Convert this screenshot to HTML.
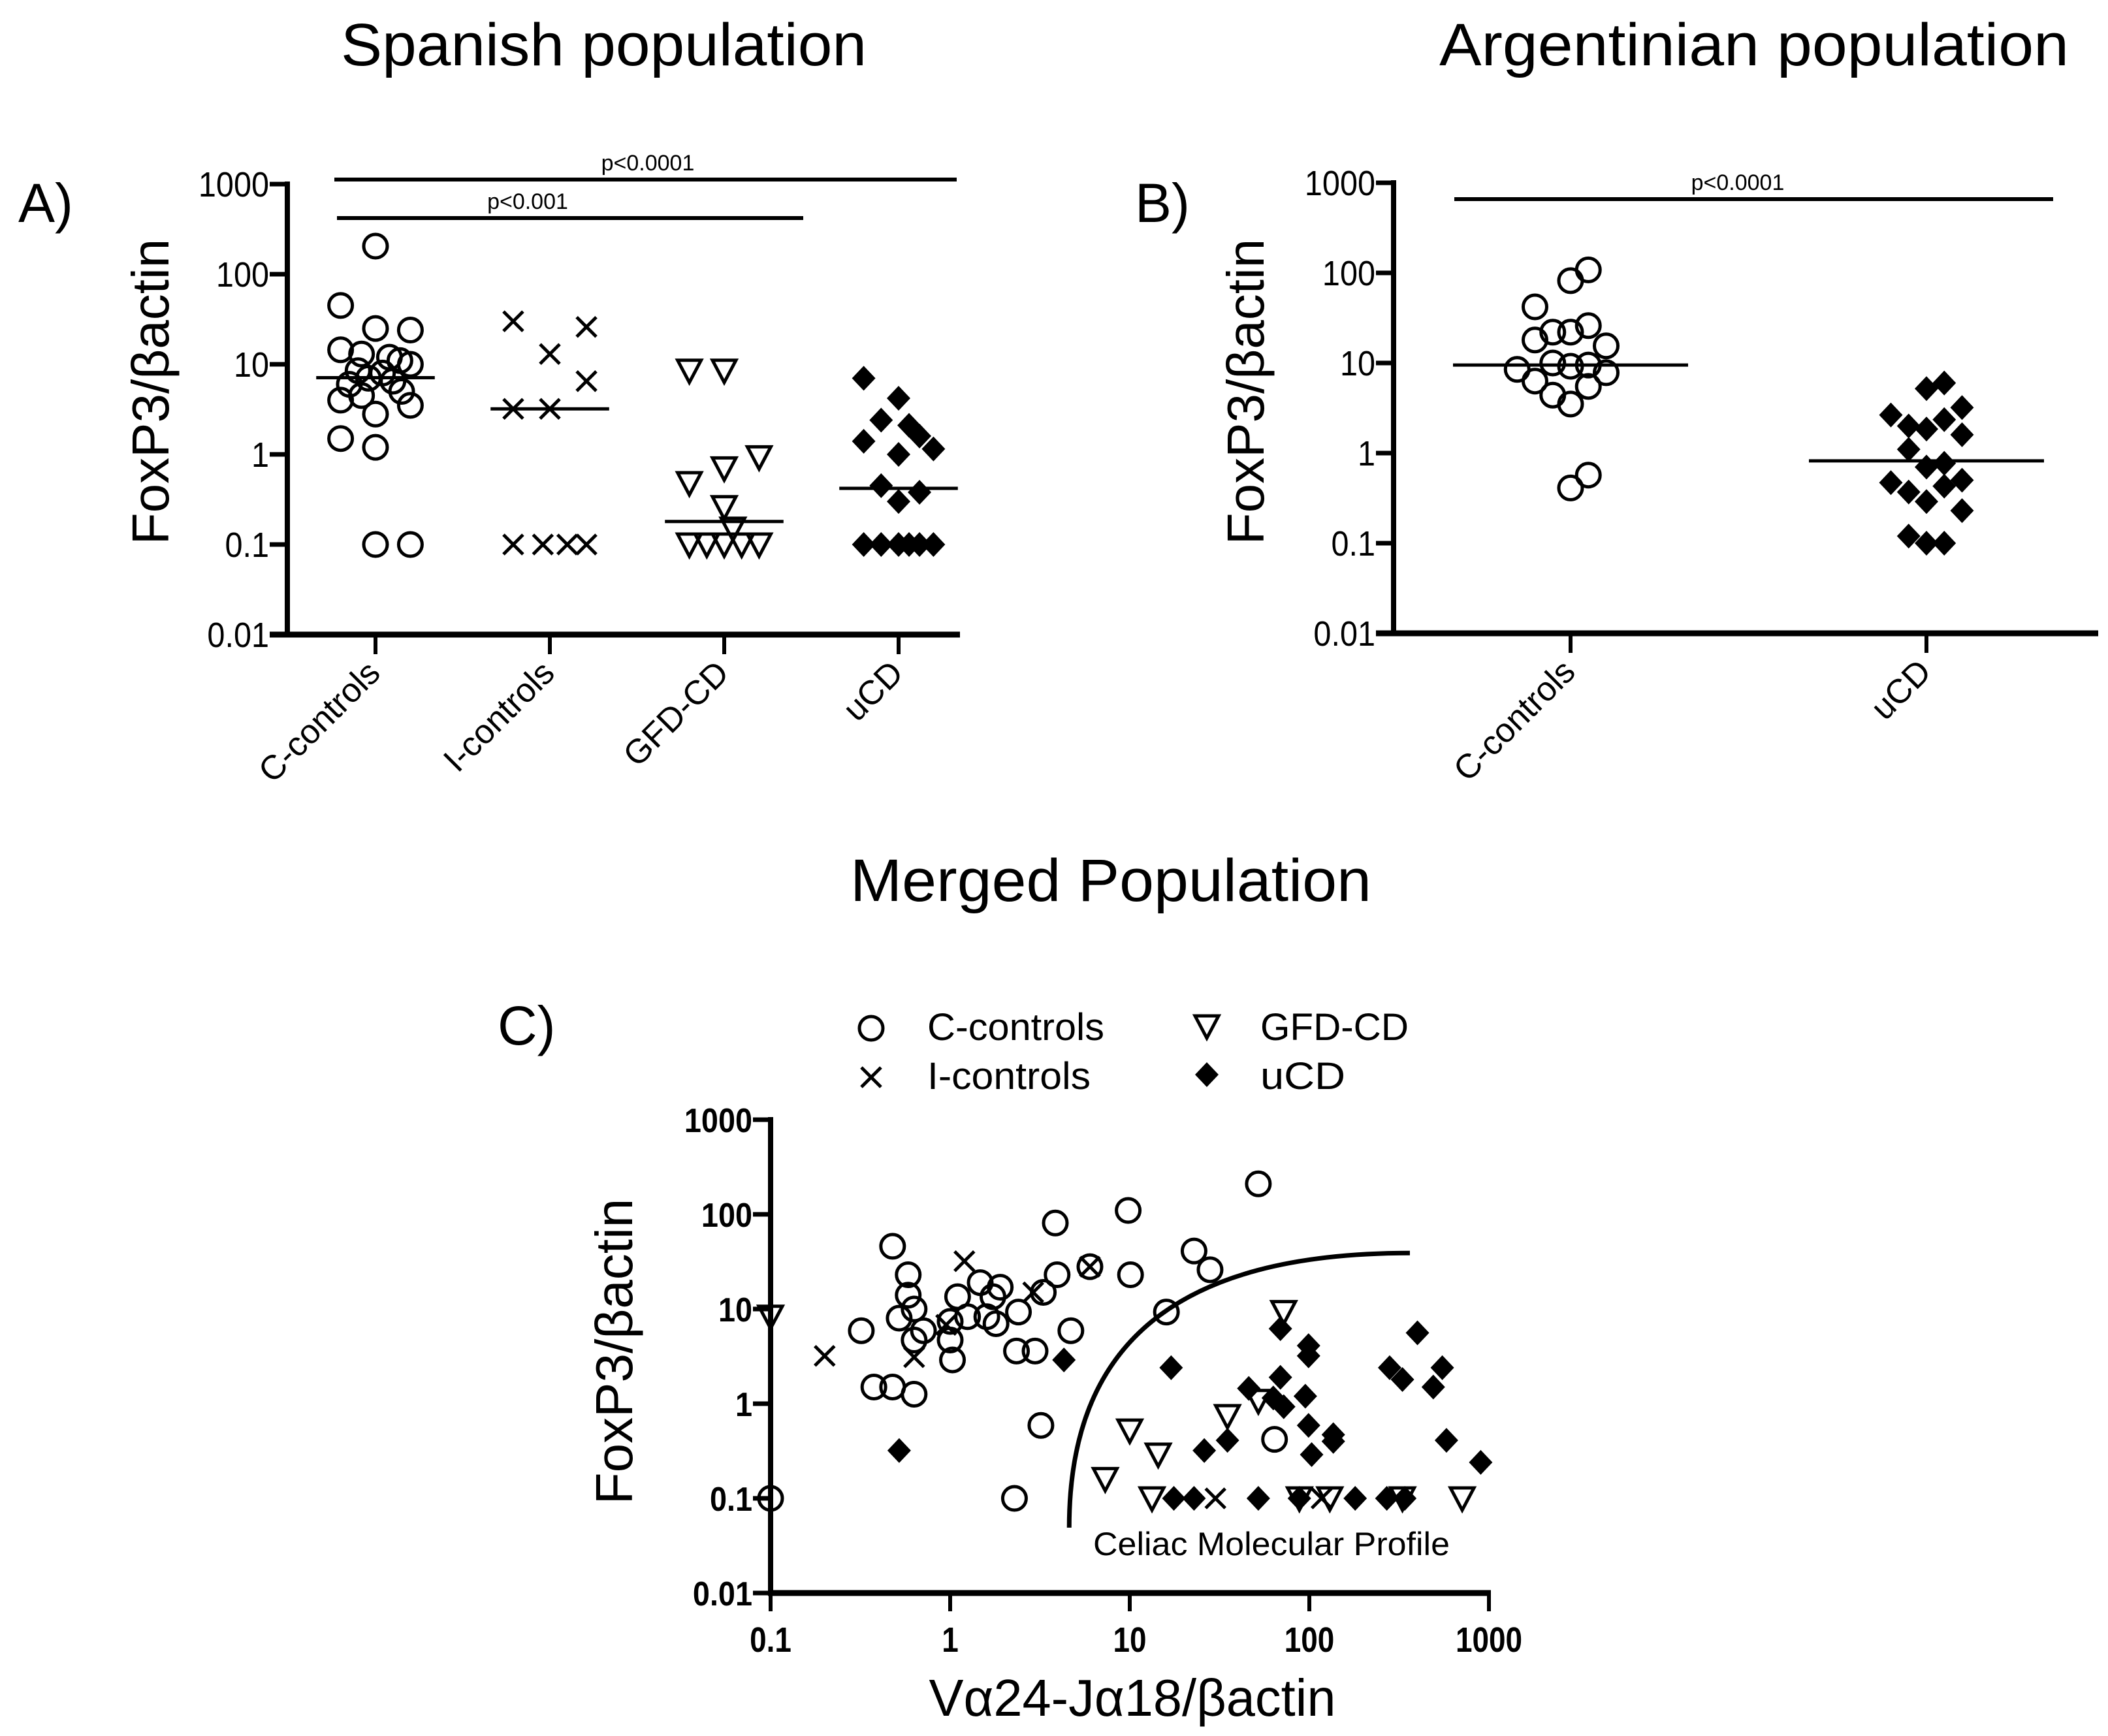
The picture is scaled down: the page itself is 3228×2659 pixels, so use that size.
<!DOCTYPE html>
<html><head><meta charset="utf-8">
<style>
html,body{margin:0;padding:0;background:#fff;}
svg{display:block;font-family:"Liberation Sans",Arial,sans-serif;}
</style></head>
<body>
<svg id="fig" width="3228" height="2659" viewBox="0 0 3228 2659" xmlns="http://www.w3.org/2000/svg">
<rect x="0" y="0" width="3228" height="2659" fill="#fff"/>
<text x="522" y="100" font-size="92" textLength="805" lengthAdjust="spacingAndGlyphs">Spanish population</text>
<text x="2204" y="100" font-size="92" textLength="964" lengthAdjust="spacingAndGlyphs">Argentinian population</text>
<text x="1302" y="1380" font-size="92" textLength="798" lengthAdjust="spacingAndGlyphs">Merged Population</text>
<text x="28" y="340" font-size="84">A)</text>
<text x="1738" y="340" font-size="84">B)</text>
<text x="762" y="1600" font-size="84">C)</text>
<g id="pA"></g>
<g id="pB"></g>
<g id="pC"></g>
</svg>
<script>
// ---------- Panel A data ----------
const catsA = ["C-controls","I-controls","GFD-CD","uCD"];
const aCctrl = [205,45,25,24,14.5,13,12,11,10,8.5,8,7,6.5,6,5,4.5,4,3.5,2.8,1.5,1.2,0.1,0.1];
const aCctrlJ = [0,-0.2,0,0.2,-0.2,-0.08,0.08,0.14,0.2,-0.1,0.04,-0.04,0.1,-0.15,0.15,-0.08,-0.2,0.2,0,-0.2,0,0,0.2];
const aIctrl = [30,26,13,6.5,3.2,3.2,0.1,0.1,0.1,0.1];
const aIctrlJ = [-0.21,0.21,0,0.21,-0.21,0,-0.21,-0.04,0.1,0.21];
const aGfd = [8.5,8.5,0.93,0.7,0.48,0.26,0.15,0.1,0.1,0.1,0.1,0.1];
const aGfdJ = [-0.2,0,0.2,0,-0.2,0,0.05,-0.2,-0.1,0,0.1,0.2];
const aUcd = [7,4.2,2.4,2.1,1.6,1.4,1.0,1.15,0.45,0.38,0.3,0.1,0.1,0.1,0.1,0.1,0.1];
const aUcdJ = [-0.2,0,-0.1,0.06,0.12,-0.2,0,0.2,-0.1,0.12,0,-0.2,-0.1,0,0.06,0.12,0.2];
const aMedians = [7.1,3.2,0.18,0.42];
// ---------- Panel B data ----------
const catsB = ["C-controls","uCD"];
const bCctrl = [108,82,42,18,22,22,26,15.5,8.5,10,9.2,9.5,7.8,6.3,4.4,5.5,3.5,0.41,0.57];
const bCctrlJ = [0.1,0,-0.2,-0.2,-0.1,0,0.1,0.2,-0.3,-0.1,0,0.1,0.2,-0.2,-0.1,0.1,0,0,0.1];
const bUcd = [2.65,2.0,5.2,6.0,3.2,2.35,1.85,1.6,1.1,0.77,0.7,0.47,0.37,0.43,0.5,0.29,0.23,0.12,0.1,0.1];
const bUcdJ = [-0.2,-0.1,0,0.1,0.2,0.1,0,0.2,-0.1,0.1,0,-0.2,-0.1,0.1,0.2,0,0.2,-0.1,0,0.1];
const bMedians = [9.5,0.82];
// ---------- Panel C data ----------
const cCtrlX = [0.1,0.32,0.376,0.478,0.478,0.584,0.584,0.52,0.63,0.63,0.63,0.71,1.0,1.0,1.03,1.1,1.25,1.47,1.6,1.73,1.8,1.9,2.4,2.34,2.97,3.85,3.94,3.3,4.7,3.2,2.28,6.0,9.8,10.1,16,22.8,28,52,64];
const cCtrlY = [0.1,5.9,1.5,1.5,46,23,14,8,10,4.7,1.26,5.9,7.4,4.7,2.9,13.5,8.3,19,8.3,13.5,7,17,9.3,3.6,3.6,81,23,15,5.9,0.59,0.1,28,110,23,9.3,41,26,210,0.42];
const iCtrlX = [0.2,1.2,0.63,0.95,2.9,6.0,30,117,305];
const iCtrlY = [3.2,32,3.1,6.8,15,28,0.1,0.1,0.1];
const gfdX = [0.1,72,10,14.4,7.3,35,52,13.3,88,130,330,710];
const gfdY = [8.3,9.3,0.52,0.29,0.16,0.74,1.07,0.1,0.1,0.1,0.1,0.1];
const ucdX = [0.52,4.3,17,69,69,99,99,46,63,72,95,99,103,136,136,26,35,17.6,22.8,52,180,280,330,400,490,550,580,900,88,270,340];
const ucdY = [0.32,2.9,2.4,6.2,1.9,4.1,3.2,1.45,1.15,0.93,1.2,0.59,0.29,0.47,0.4,0.32,0.41,0.1,0.1,0.1,0.1,2.4,1.8,5.6,1.5,2.4,0.41,0.24,0.1,0.1,0.1];
const curveStart = [4.6,0.049];
const curveEnd = [363,39];
const yTicks = [1000,100,10,1,0.1,0.01];
const yTickLabels = ["1000","100","10","1","0.1","0.01"];
const xTicksC = [0.1,1,10,100,1000];
const xTickLabelsC = ["0.1","1","10","100","1000"];

const NS="http://www.w3.org/2000/svg";
function mk(parent,tag,attrs,text){const e=document.createElementNS(NS,tag);for(const k in attrs)e.setAttribute(k,attrs[k]);if(text!==undefined)e.textContent=text;parent.appendChild(e);return e;}
function logY(top,dec){return v=>top+(3-Math.log10(v))*dec;}

function marker(g,type,x,y,name){
  let e;
  if(type==="circle"){e=mk(g,"circle",{cx:x,cy:y,r:18,fill:"none",stroke:"#000","stroke-width":5});}
  else if(type==="x"){e=mk(g,"path",{d:`M${x-15},${y-15}L${x+15},${y+15}M${x+15},${y-15}L${x-15},${y+15}`,stroke:"#000","stroke-width":5,fill:"none"});}
  else if(type==="tri"){e=mk(g,"path",{d:`M${x-18},${y-16}L${x+18},${y-16}L${x},${y+18}Z`,stroke:"#000","stroke-width":5,fill:"none","stroke-linejoin":"miter"});}
  else {e=mk(g,"path",{d:`M${x},${y-19}L${x+18},${y}L${x},${y+19}L${x-18},${y}Z`,fill:"#000"});}
  
  
  return e;
}

function yAxis(g,axX,yS,bottomY,topY,bold,lab){
  let ax=mk(g,"line",{x1:axX,y1:topY-4,x2:axX,y2:bottomY,stroke:"#000","stroke-width":8});
  
  
  yTicks.forEach((t,i)=>{
    const y=yS(t);
    const tk=mk(g,"line",{x1:axX-27,y1:y,x2:axX,y2:y,stroke:"#000","stroke-width":7});
    
    
    const tl=mk(g,"text",{x:axX-28,y:y+19,"font-size":bold?52:54,"text-anchor":"end","font-weight":bold?"bold":"normal",transform:`translate(${axX-28},0) scale(0.9,1) translate(${-(axX-28)},0)`},yTickLabels[i]);
    
    
  });
  const cy=lab.cy;
  const t=mk(g,"text",{x:lab.x,y:cy,"font-size":80,"text-anchor":"middle",transform:`rotate(-90 ${lab.x} ${cy})`},"FoxP3/βactin");
  
  
}

function catPanel(g,cfg){
  const yS=logY(cfg.top,cfg.dec);
  const bottom=yS(0.01);
  yAxis(g,cfg.axX,yS,bottom,cfg.top,false,{x:cfg.titleX,cy:600});
  const xa=mk(g,"line",{x1:cfg.axX-27,y1:bottom,x2:cfg.xEnd,y2:bottom,stroke:"#000","stroke-width":9});
  
  
  const xS=i=>cfg.x0+i*cfg.step;
  cfg.cats.forEach((c,i)=>{
    const x=xS(i);
    const tk=mk(g,"line",{x1:x,y1:bottom,x2:x,y2:bottom+30,stroke:"#000","stroke-width":6});
    
    
    const tl=mk(g,"text",{x:x+10,y:bottom+62,"font-size":52,"text-anchor":"end",transform:`rotate(-45 ${x+10} ${bottom+62})`},c);
    
    
  });
  cfg.series.forEach(s=>{
    s.vals.forEach((v,k)=>marker(g,s.type,xS(s.cat+s.jit[k]*cfg.jscale),yS(v),'point-'+s.name));
  });
  cfg.medians.forEach((m,i)=>{
    const l=mk(g,"line",{x1:xS(i-0.34),x2:xS(i+0.34),y1:yS(m),y2:yS(m),stroke:"#000","stroke-width":5});
    
    
  });
  cfg.sig.forEach(s=>{
    const l=mk(g,"line",{x1:s.x1,x2:s.x2,y1:s.y,y2:s.y,stroke:"#000","stroke-width":6});
    
    
    const t=mk(g,"text",{x:(s.tx),y:s.y-14,"font-size":34,"text-anchor":"middle"},s.label);
    
    
  });
}

catPanel(document.getElementById("pA"),{
  top:282,dec:138,axX:440,xEnd:1470,x0:575,step:267,jscale:1,titleX:258,cats:catsA,
  series:[
    {name:'c-controls',type:"circle",cat:0,vals:aCctrl,jit:aCctrlJ},
    {name:'i-controls',type:"x",cat:1,vals:aIctrl,jit:aIctrlJ},
    {name:'gfd-cd',type:"tri",cat:2,vals:aGfd,jit:aGfdJ},
    {name:'ucd',type:"diamond",cat:3,vals:aUcd,jit:aUcdJ}],
  medians:aMedians,
  sig:[{x1:512,x2:1465,y:275,tx:992,label:"p<0.0001"},{x1:516,x2:1230,y:334,tx:808,label:"p<0.001"}]
});
catPanel(document.getElementById("pB"),{
  top:280,dec:138,axX:2134,xEnd:3213,x0:2405,step:545,jscale:0.5,titleX:1935,cats:catsB,
  series:[
    {name:'c-controls',type:"circle",cat:0,vals:bCctrl,jit:bCctrlJ},
    {name:'ucd',type:"diamond",cat:1,vals:bUcd,jit:bUcdJ}],
  medians:[],
  sig:[{x1:2227,x2:3144,y:305,tx:2661,label:"p<0.0001"}]
});
(function(){
  const g=document.getElementById("pB");const yS=logY(280,138);
  bMedians.forEach((m,i)=>{
    const cx=2405+i*545;
    const l=mk(g,"line",{x1:cx-180,x2:cx+180,y1:yS(m),y2:yS(m),stroke:"#000","stroke-width":5});
    
    
  });
})();

// ---------- Panel C ----------
(function(){
  const g=document.getElementById("pC");
  const yS=logY(1715,145);
  const xS=v=>1180+(Math.log10(v)+1)*275;
  const bottom=yS(0.01);
  yAxis(g,1180,yS,bottom,1715,true,{x:968,cy:2070});
  const xa=mk(g,"line",{x1:1176,y1:bottom,x2:xS(1000)+3,y2:bottom,stroke:"#000","stroke-width":9});
  
  
  xTicksC.forEach((t,i)=>{
    const x=xS(t);
    const tk=mk(g,"line",{x1:x,y1:bottom,x2:x,y2:bottom+28,stroke:"#000","stroke-width":6});
    
    
    const tl=mk(g,"text",{x:x,y:bottom+90,"font-size":54,"font-weight":"bold","text-anchor":"middle",transform:`translate(${x},0) scale(0.85,1) translate(${-x},0)`},xTickLabelsC[i]);
    
    
  });
  const xt=mk(g,"text",{x:1734,y:2628,"font-size":80,"text-anchor":"middle",textLength:623,lengthAdjust:"spacingAndGlyphs"},"Vα24-Jα18/βactin");
  
  
  const sx=xS(curveStart[0]),sy=yS(curveStart[1]),ex=xS(curveEnd[0]),ey=yS(curveEnd[1]);
  const cv=mk(g,"path",{d:`M${sx},${sy} C${sx},${sy-280} ${ex-360},${ey} ${ex},${ey}`,fill:"none",stroke:"#000","stroke-width":7});
  
  
  const ct=mk(g,"text",{x:1674,y:2382,"font-size":50,textLength:546,lengthAdjust:"spacingAndGlyphs"},"Celiac Molecular Profile");
  
  
  cCtrlX.forEach((v,k)=>marker(g,"circle",xS(v),yS(cCtrlY[k]),'point-c-controls'));
  iCtrlX.forEach((v,k)=>marker(g,"x",xS(v),yS(iCtrlY[k]),'point-i-controls'));
  gfdX.forEach((v,k)=>marker(g,"tri",xS(v),yS(gfdY[k]),'point-gfd-cd'));
  ucdX.forEach((v,k)=>marker(g,"diamond",xS(v),yS(ucdY[k]),'point-ucd'));
  const leg=[["circle",1334,1575,"C-controls",1420,1593],["x",1334,1650,"I-controls",1420,1668],["tri",1848,1572,"GFD-CD",1930,1593],["diamond",1848,1646,"uCD",1930,1668]];
  const lw={"C-controls":271,"I-controls":250,"GFD-CD":227,"uCD":130};
  leg.forEach(l=>{
    const lg=mk(g,"g",{});
    
    
    marker(lg,l[0],l[1],l[2],'legend-marker');
    const t=mk(lg,"text",{x:l[4],y:l[5],"font-size":58,textLength:lw[l[3]],lengthAdjust:"spacingAndGlyphs"},l[3]);
    
    
  });
})();
</script>
</body></html>
